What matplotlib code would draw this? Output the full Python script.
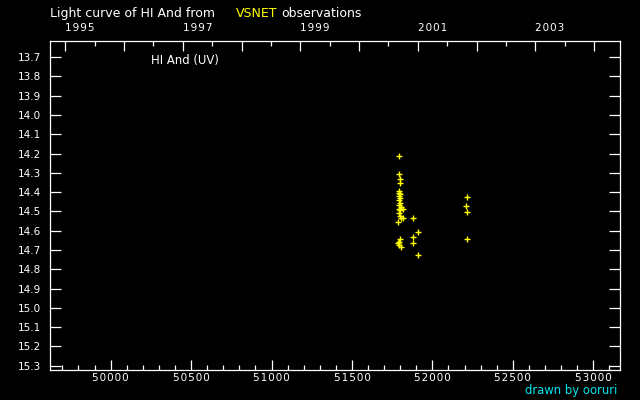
import datetime as dt
import matplotlib
matplotlib.use("Agg")
import matplotlib.pyplot as plt
from matplotlib.ticker import MultipleLocator, FixedLocator, FuncFormatter

# ---- data (MJD, magnitude) ----
mjd = [51794, 51794, 51800, 51798,
       51794, 51790, 51799, 51792, 51799, 51794, 51799, 51792, 51805, 51790,
       51799, 51819, 51794, 51799, 51803, 51819, 51881, 51788, 51912, 51881,
       51799, 51792, 51786, 51794, 51803, 51881, 51912,
       52217, 52211, 52217, 52217]
mag = [14.213, 14.308, 14.331, 14.355,
       14.393, 14.403, 14.410, 14.421, 14.433, 14.441, 14.455, 14.467, 14.479, 14.486,
       14.493, 14.486, 14.510, 14.523, 14.536, 14.536, 14.536, 14.557, 14.609, 14.635,
       14.645, 14.657, 14.666, 14.675, 14.687, 14.666, 14.728,
       14.427, 14.474, 14.505, 14.645]

years = list(range(1994, 2005))
year_labels = [1995, 1997, 1999, 2001, 2003]
xlim = (49625, 53168)
ylim = (15.322, 13.614)

W, H = 640, 400
fig = plt.figure(figsize=(W / 100, H / 100), dpi=100, facecolor="black")
ax = fig.add_axes([50.3 / W, 1 - 370 / H, 570 / W, (370 - 40.5) / H])
ax.set_facecolor("black")

ax.plot(mjd, mag, linestyle="none", marker="+", color="#ffff00",
        markersize=3.8, markeredgewidth=1.0)

ax.set_xlim(*xlim)
ax.set_ylim(*ylim)

for s in ax.spines.values():
    s.set_color("white")
    s.set_linewidth(0.9)

FONT = "DejaVu Sans"
TS = 7.5

ax.xaxis.set_major_locator(MultipleLocator(500))
ax.xaxis.set_minor_locator(MultipleLocator(100))
ax.yaxis.set_major_locator(MultipleLocator(0.1))
ax.yaxis.set_major_formatter(FuncFormatter(lambda v, p: f"{v:.1f}"))
ax.xaxis.set_major_formatter(FuncFormatter(lambda v, p: "\u200a".join(f"{int(round(v))}")))

ax.tick_params(axis="both", which="both", direction="in", colors="white",
               width=0.9, labelsize=TS)
ax.tick_params(axis="x", which="major", length=7.2, pad=2.5, top=False)
ax.tick_params(axis="x", which="minor", length=3.6, top=False)
ax.tick_params(axis="y", which="major", length=7.7, pad=7.0, right=True)
ax.tick_params(axis="y", which="minor", left=False, right=False)
for lab in ax.get_xticklabels() + ax.get_yticklabels():
    lab.set_fontfamily(FONT)

# top axis: calendar years
epoch = dt.date(1858, 11, 17)
def to_mjd(d):
    return (d - epoch).days

ax2 = ax.twiny()
ax2.set_xlim(*xlim)
major = [to_mjd(dt.date(y, 1, 1)) for y in years]
minor = [to_mjd(dt.date(y, 7, 2)) for y in years]
ax2.xaxis.set_major_locator(FixedLocator(major))
ax2.xaxis.set_minor_locator(FixedLocator(minor))
lab_map = {to_mjd(dt.date(y, 1, 1)): str(y) for y in year_labels}
ax2.xaxis.set_major_formatter(FuncFormatter(
    lambda v, p: "\u200a".join(lab_map.get(int(round(v)), ""))))
ax2.tick_params(axis="x", which="major", direction="in", colors="white",
                length=7.2, width=0.9, pad=5.5, labelsize=TS)
ax2.tick_params(axis="x", which="minor", direction="in", colors="white",
                length=3.6, width=0.9)
for lab in ax2.get_xticklabels():
    lab.set_horizontalalignment("left")
    lab.set_fontfamily(FONT)
for s in ax2.spines.values():
    s.set_visible(False)

# texts
def ftext(x, y, s, **kw):
    fig.text(x / W, 1 - y / H, s, family=FONT, **kw)

ftext(50, 17, "Light curve of HI And from", color="white", fontsize=9, va="baseline")
ftext(236, 17, "VSNET", color="#ffff00", fontsize=9, va="baseline")
ftext(281, 17, "observations", color="white", fontsize=9, va="baseline")
ftext(150.7, 64, "HI And (UV)", color="white", fontsize=8.4, va="baseline")
ftext(617, 394, "drawn by ooruri", color="#00e5ee", fontsize=8.4, va="baseline", ha="right")

fig.savefig("out.png", dpi=100, facecolor="black")
